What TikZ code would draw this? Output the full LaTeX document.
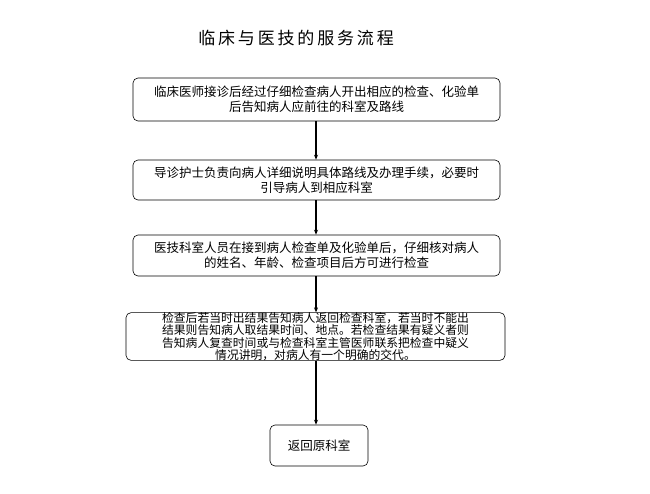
\documentclass[tikz,border=0pt]{standalone}
\usepackage{fontspec}
\newfontfamily\cjk{Noto Sans CJK SC}
\usetikzlibrary{arrows.meta}
\begin{document}
\begin{tikzpicture}[x=1pt,y=-1pt,
  stepbox/.style={draw,rounded corners=5pt,line width=0.6pt,align=center,font=\cjk\fontsize{12.5}{15}\selectfont,inner sep=0pt},
  arr/.style={-{Stealth[length=5pt,width=4pt]},line width=1.2pt}]
\useasboundingbox (0,0) rectangle (650,493);
\node[font=\cjk\fontsize{17}{20}\selectfont] (t) at (296,38) {临\,床\,与\,医\,技\,的\,服\,务\,流\,程};
\node[stepbox,minimum width=367pt,minimum height=43pt] (b1) at (316.5,99.5) {临床医师接诊后经过仔细检查病人开出相应的检查、化验单\\后告知病人应前往的科室及路线};
\node[stepbox,minimum width=367pt,minimum height=40pt] (b2) at (316.5,180) {导诊护士负责向病人详细说明具体路线及办理手续，必要时\\引导病人到相应科室\hspace{9em}};
\node[stepbox,minimum width=367pt,minimum height=41pt] (b3) at (316.5,255.5) {医技科室人员在接到病人检查单及化验单后，仔细核对病人\\的姓名、年龄、检查项目后方可进行检查\hspace{5em}};
\node[stepbox,minimum width=379pt,minimum height=45pt,font=\cjk\fontsize{11.8}{11}\selectfont] (b4) at (315.5,336.5) {检查后若当时出结果告知病人返回检查科室，若当时不能出\\结果则告知病人取结果时间、地点。若检查结果有疑义者则\\告知病人复查时间或与检查科室主管医师联系把检查中疑义\\情况讲明，对病人有一个明确的交代。\hspace{7em}};
\node[stepbox,minimum width=98pt,minimum height=41pt] (b5) at (319,445.5) {返回原科室};
\draw[arr] (b1.south -| 316,0) -- (b2.north -| 316,0);
\draw[arr] (b2.south -| 316,0) -- (b3.north -| 316,0);
\draw[arr] (b3.south -| 316,0) -- (b4.north -| 316,0);
\draw[arr] (b4.south -| 316,0) -- (b5.north -| 316,0);
\end{tikzpicture}
\end{document}
